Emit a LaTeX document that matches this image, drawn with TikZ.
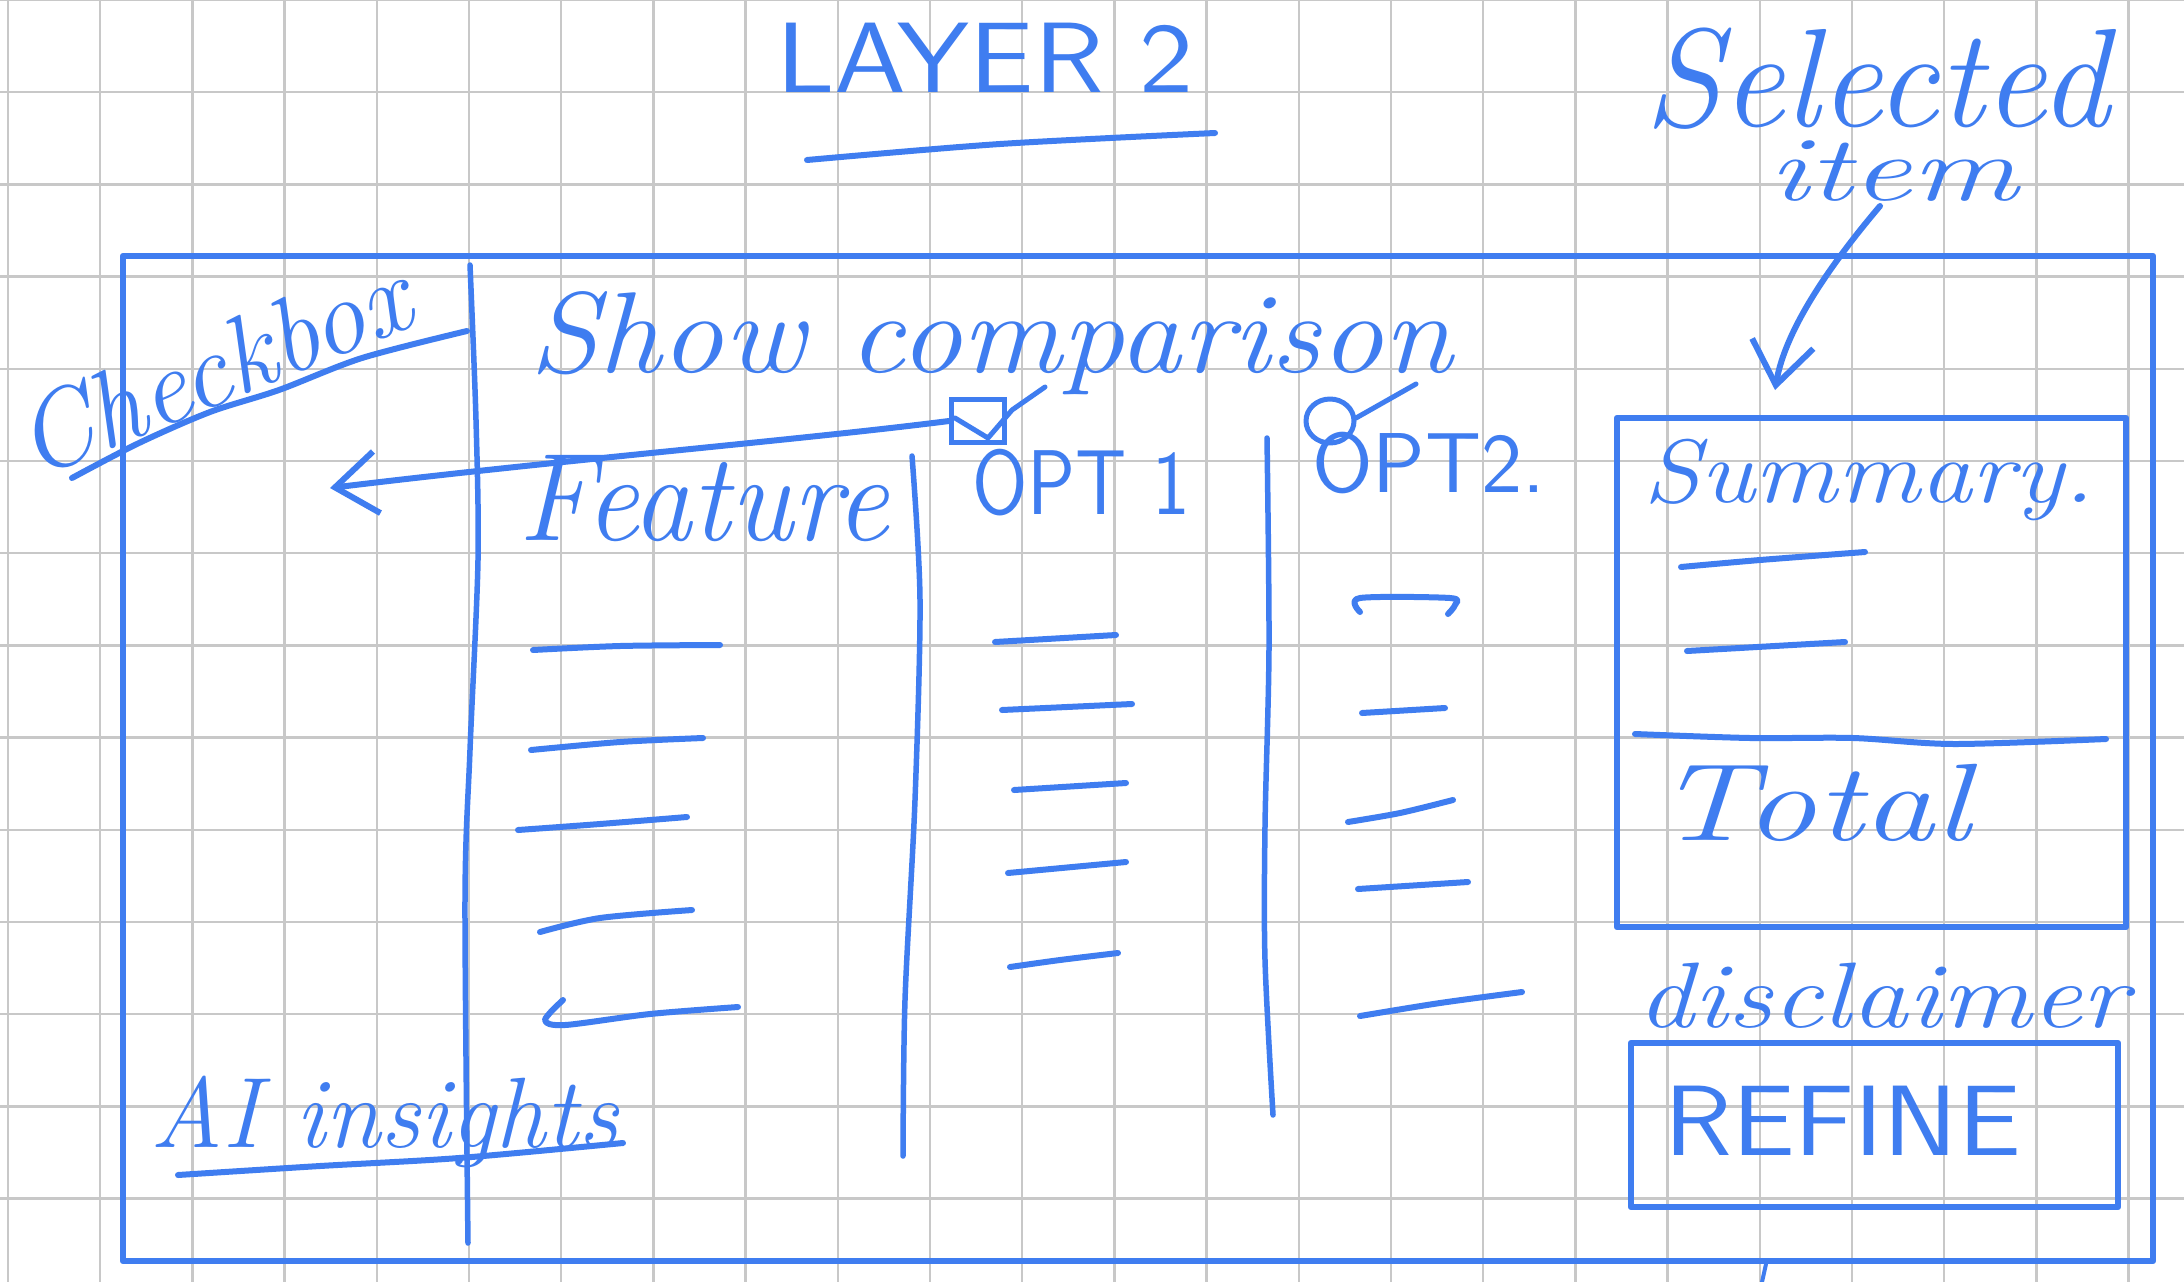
\documentclass[tikz,border=0pt]{standalone}
\usepackage{fontspec}
\usetikzlibrary{arrows.meta}
\definecolor{ink}{RGB}{63,125,240}
\definecolor{gridc}{RGB}{200,200,200}
\newcommand\hwit[1]{\fontsize{#1}{#1}\selectfont\itshape}
\newcommand\hwsf[1]{\fontsize{#1}{#1}\selectfont\sffamily}
\tikzset{
  gridline/.style={draw=gridc, line width=2.5pt},
  pen/.style={draw=ink, line width=6pt, line cap=round, line join=round},
  frame/.style={draw=ink, line width=6.5pt, inner sep=0pt, line join=round},
  hand/.style={text=ink, inner sep=0pt},
  barb/.style={-{Straight Barb[length=42pt,width=62pt,line width=6pt]}},
}
\begin{document}
\begin{tikzpicture}[x=1pt,y=-1pt]
\useasboundingbox (0,0) rectangle (2184,1282);
\fill[white] (0,0) rectangle (2184,1282);
% grid
\foreach \i in {0,...,23} \draw[gridline] ({8+92.2*\i},0) -- ({8+92.2*\i},1282);
\foreach \j in {0,...,13} \draw[gridline] (0,{92.2*\j}) -- (2184,{92.2*\j});

% title
\node[hand, font={\hwsf{100}}, anchor=base west, xscale=1.15] (layer) at (776,92) {LAYER 2};
\draw[pen] plot[smooth] coordinates {(807,160) (1000,144) (1215,133)};

% outer frame
\node[frame, minimum width=2030pt, minimum height=1005pt] (outer) at (1138,758.5) {};

% dividers
\draw[pen, line width=5.5pt] plot[smooth] coordinates {(470,265) (476,420) (478,560) (470,750) (465,900) (468,1243)};
\draw[pen, line width=5.5pt] plot[smooth] coordinates {(912,456) (920,600) (915,800) (905,1000) (903,1156)};
\draw[pen, line width=5.5pt] plot[smooth] coordinates {(1267,438) (1269,648) (1265,826) (1265,960) (1273,1115)};

% checkbox label
\node[hand, font={\hwit{108}}, anchor=base west, rotate=22] (cblabel) at (33,480) {Checkbox};
\draw[pen] plot[smooth] coordinates {(72,478) (139,443) (210,412) (279,390) (362,358) (467,331)};

% header
\node[hand, font={\hwit{115}}, anchor=base west, xscale=1.09] (show) at (529,372) {Show comparison};

% checkbox and arrow
\node[draw=ink, line width=5pt, minimum width=53pt, minimum height=43pt, inner sep=0pt] (cb) at (978,421) {};
\draw[pen, line width=5pt] (955,418) -- (988,438) -- (1012,410) -- (1045,387);
\coordinate (cbtip) at (330,488);
\draw[pen, barb] (cb.west) .. controls (800,440) and (560,460) .. (cbtip);

% column heads
\node[hand, font={\hwit{125}}, anchor=base west, xscale=0.95] (feature) at (518,540) {Feature};
\node[hand, font={\hwsf{92}}, anchor=base west, xscale=0.87] (opt1) at (972,514) {OPT 1};
\node[hand, font={\hwsf{85}}, anchor=base west, xscale=1.03] (opt2) at (1312,492) {OPT2.};
\draw[pen, line width=5pt] (1330,421) ellipse [x radius=24, y radius=22];
\draw[pen, line width=5pt] (1356,418) -- (1416,384);

% feature rows
\draw[pen] plot[smooth] coordinates {(533,650) (620,646) (720,645)};
\draw[pen] plot[smooth] coordinates {(531,750) (620,742) (703,738)};
\draw[pen] plot[smooth] coordinates {(518,830) (600,824) (687,817)};
\draw[pen] plot[smooth] coordinates {(540,932) (600,918) (692,910)};
\draw[pen] plot[smooth] coordinates {(563,1000) (545,1020) (565,1025) (650,1014) (738,1007)};
% opt1 rows
\draw[pen] (995,642) -- (1116,635);
\draw[pen] (1002,710) -- (1132,704);
\draw[pen] (1014,790) -- (1126,783);
\draw[pen] (1008,873) -- (1126,862);
\draw[pen] plot[smooth] coordinates {(1010,967) (1060,960) (1118,953)};
% opt2 rows
\draw[pen] plot[smooth] coordinates {(1360,612) (1360,598) (1450,598) (1455,605) (1448,614)};
\draw[pen] (1362,713) -- (1445,708);
\draw[pen] plot[smooth] coordinates {(1348,822) (1400,813) (1453,800)};
\draw[pen] (1358,889) -- (1468,882);
\draw[pen] plot[smooth] coordinates {(1360,1016) (1440,1003) (1522,992)};

% AI insights
\node[hand, font={\hwit{100}}, anchor=base west] (ai) at (150,1147) {AI insights};
\draw[pen] plot[smooth] coordinates {(178,1175) (320,1166) (459,1158) (623,1143)};

% selected item
\node[hand, font={\hwit{140}}, anchor=base west] (sel1) at (1644,126) {Selected};
\node[hand, font={\hwit{92}}, anchor=base west, xscale=1.45] (sel2) at (1768,200) {item};

% summary box
\node[frame, minimum width=509pt, minimum height=509pt] (sumbox) at (1871.5,672.5) {};
\coordinate (selstart) at (1880,206);
\coordinate (seltip) at (1775,390);
\draw[pen, barb] (selstart) .. controls (1830,265) and (1785,330) .. (seltip);
\node[hand, font={\hwit{90}}, anchor=base west, xscale=1.15] (summary) at (1643,502) {Summary.};
\draw[pen] plot[smooth] coordinates {(1681,567) (1760,560) (1865,552)};
\draw[pen] (1687,651) -- (1845,642);
\draw[pen] plot[smooth] coordinates {(1635,734) (1750,738) (1853,738) (1954,744) (2106,739)};
\node[hand, font={\hwit{110}}, anchor=base west, xscale=1.3] (total) at (1655,840) {Total};

% disclaimer and refine
\node[hand, font={\hwit{93}}, anchor=base west, xscale=1.21] (disc) at (1637,1027) {disclaimer};
\node[frame, minimum width=487pt, minimum height=164pt] (refbox) at (1874.5,1125) {};
\node[hand, font={\hwsf{100}}, anchor=base west, xscale=1.12] (refine) at (1664,1155) {REFINE};
\draw[pen, line width=4pt] (1766,1264) -- (1762,1282);
\end{tikzpicture}
\end{document}
